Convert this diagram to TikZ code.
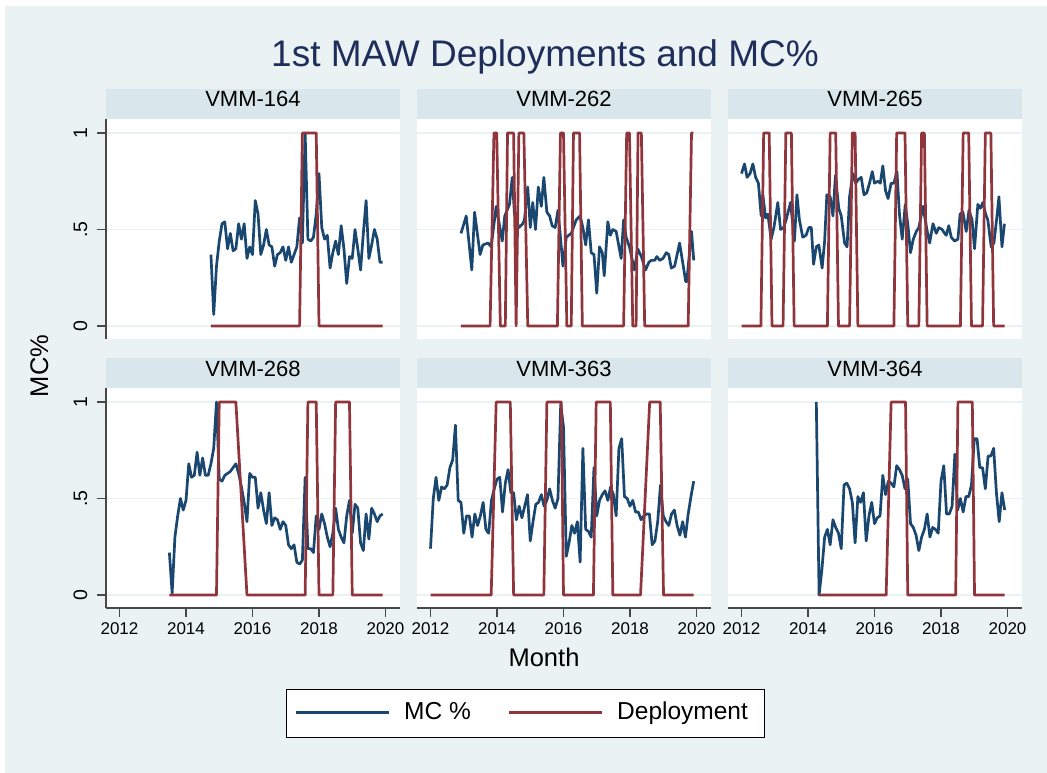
\documentclass[tikz,border=0pt]{standalone}
\usepackage{fontspec}
\setmainfont{Liberation Sans}

\definecolor{bgcol}{HTML}{EAF2F3}
\definecolor{stripcol}{HTML}{D9E6EB}
\definecolor{gridcol}{HTML}{EAF2F3}
\definecolor{titlecol}{HTML}{1E2D5A}
\definecolor{mcblue}{HTML}{1A476F}
\definecolor{depred}{HTML}{90353B}
\definecolor{axiscol}{HTML}{474747}

% facet frame: #1 left x, #2 strip top y, #3 strip label, #4 node name
\newcommand\facetframe[4]{%
  \fill[stripcol] (#1,#2) rectangle ++(294,30);
  \node[striplabel] (#4) at (#1+147,#2+18) {#3};
  \fill[white] (#1,#2+30) rectangle ++(294,220);
  \foreach \gy in {44,140.5,237} \draw[gridline] (#1,#2+\gy) -- ++(294,0);
}

\begin{document}
\begin{tikzpicture}[x=1pt,y=-1pt,
  striplabel/.style={font=\fontsize{22}{26}\selectfont, anchor=base, inner sep=0pt},
  ticklabel/.style={font=\fontsize{17}{20}\selectfont, anchor=base, inner sep=0pt},
  yticklabel/.style={font=\fontsize{19.5}{23}\selectfont, anchor=base, inner sep=0pt, rotate=90},
  axislabel/.style={font=\fontsize{25.5}{30}\selectfont, anchor=base, inner sep=0pt},
  legendtext/.style={font=\fontsize{24.5}{29}\selectfont, anchor=base west, inner sep=0pt},
  titletext/.style={font=\fontsize{37}{44}\selectfont, text=titlecol, anchor=base, inner sep=0pt},
  gridline/.style={draw=gridcol, line width=1.6pt},
  axisline/.style={draw=axiscol, line width=1.3pt},
  mcline/.style={draw=mcblue, line width=2.7pt, line join=round},
  depline/.style={draw=depred, line width=2.7pt, line join=round},
  series/.style={x=2.7708pt, y=193pt},
]
\useasboundingbox (0,0) rectangle (1047,773);
\fill[bgcol] (5,6) rectangle (1047,773);

\node[titletext] (title) at (545,67) {1st MAW Deployments and MC\%};

% facet frames
\facetframe{106}{89}{VMM-164}{s164}
\facetframe{417}{89}{VMM-262}{s262}
\facetframe{728}{89}{VMM-265}{s265}
\facetframe{106}{358}{VMM-268}{s268}
\facetframe{417}{358}{VMM-363}{s363}
\facetframe{728}{358}{VMM-364}{s364}

% y axes (left column)
\draw[axisline] (106,119) -- (106,339);
\draw[axisline] (106,388) -- (106,608);
\foreach \ty/\tl in {326/0, 229.5/.5, 133/1, 595/0, 498.5/.5, 402/1} {
  \draw[axisline] (97,\ty) -- (106,\ty);
  \node[yticklabel] at (87,\ty) {\tl};
}

% x axes (bottom row)
\foreach \lx in {106,417,728} \draw[axisline] (\lx,608) -- ++(294,0);
\foreach \px in {119.5,430.5,741.5} {
  \foreach \k/\yr in {0/2012,1/2014,2/2016,3/2018,4/2020} {
    \draw[axisline] (\px+66.5*\k,608) -- ++(0,9);
    \node[ticklabel] at (\px+66.5*\k,634) {\yr};
  }
}

\node[axislabel] (xtitle) at (544,666) {Month};
\node[axislabel, rotate=90] (ytitle) at (48,366) {MC\%};

% ---- VMM-164 ----
\begin{scope}[xshift=119.5pt, yshift=-326pt, series]
  \draw[mcline] (33,.37) \foreach \v [count=\i from 34] in
    {.06,.31,.44,.53,.54,.40,.48,.39,.40,.53,.45,.53,.35,.41,.37,.65,.58,.37,.42,.50,
     .42,.41,.31,.37,.38,.41,.34,.41,.33,.37,.41,.56,.43,1.0,.45,.44,.46,.58,.79,.51,
     .45,.47,.30,.38,.44,.37,.52,.40,.22,.36,.35,.50,.40,.29,.48,.65,.35,.42,.50,.45,
     .33,.33} { -- (\i,\v) };
  \draw[depline] (33,0) -- (65,0) -- (66,1) -- (71,1) -- (72,0) -- (95,0);
\end{scope}

% ---- VMM-262 ----
\begin{scope}[xshift=430.5pt, yshift=-326pt, series]
  \draw[mcline] plot coordinates {(11,.48) (12.9,.57) (14.9,.29) (15.9,.59) (17.9,.37)
    (18.9,.42) (20.8,.43) (21.9,.41) (23.7,.62) (25.9,.44) (26.8,.57) (28.5,.63)
    (29.5,.77) (30.3,.58) (31.9,.51) (33.3,.53) (33.9,.55) (35.1,.72) (36,.51)
    (36.9,.64) (37.9,.50) (38.9,.72) (40,.62) (40.9,.77) (42,.59) (43,.57) (43.9,.52)
    (45,.51) (46,.60) (46.9,.46) (47.8,.31) (49,.46) (50.8,.48) (52.6,.55) (54,.57)
    (55,.51) (56,.42) (57,.55) (58,.38) (59,.37) (60,.17) (61,.41) (62,.38) (62.7,.26)
    (64,.54) (64.9,.47) (65.8,.50) (67,.49) (68.8,.35) (69.7,.55) (70.6,.46) (71.8,.41)
    (73.6,.29) (74.8,.40) (76.1,.36) (77.6,.29) (78.8,.33) (79.7,.34) (80.9,.34)
    (81.7,.36) (82.7,.34) (83.9,.35) (85.1,.38) (86,.37) (86.9,.30) (88.1,.31)
    (89.9,.43) (90.9,.34) (92.1,.23) (92.5,.23) (94.2,.49) (95,.34)};
  \draw[depline] plot coordinates {(11,0) (21.5,0) (22.9,1) (23.9,1) (25.2,0) (27,0)
    (27.8,1) (30,1) (30.9,0) (31.9,1) (33.7,1) (35.1,0) (45.8,0) (46.9,1) (48,1)
    (49.2,0) (50.8,0) (51.6,1) (53.8,1) (54.8,0) (69.7,0) (70.8,1) (71.8,1) (73,0)
    (74.2,0) (74.9,1) (76.1,1) (77.3,0) (93,0) (94.2,1) (94.9,1)};
\end{scope}

% ---- VMM-265 ----
\begin{scope}[xshift=741.5pt, yshift=-326pt, series]
  \draw[mcline] plot coordinates {(0,.79) (1.1,.84) (2,.77) (3.1,.79) (4.1,.84)
    (5.1,.77) (6.1,.74) (7.1,.57) (7.7,.68) (8.7,.56) (9.5,.58) (10.7,.45) (11.7,.51)
    (13.1,.64) (14.1,.50) (15.2,.51) (16.1,.55) (17.7,.64) (19.1,.44) (20,.68)
    (20.9,.55) (22.1,.46) (23.3,.47) (24.3,.51) (25.2,.51) (26,.32) (27,.41)
    (27.9,.42) (29.1,.30) (30,.44) (30.8,.68) (32,.67) (33,.57) (33.9,.78) (35.1,.61)
    (36,.57) (37.2,.43) (38.1,.41) (39,.67) (40.2,.79) (41.2,.74) (42.2,.76)
    (43.2,.77) (44.2,.68) (45.2,.69) (46.2,.74) (47.2,.80) (48,.74) (49.2,.75)
    (50.1,.74) (51,.83) (52,.70) (52.9,.66) (54,.74) (55,.74) (56.1,.80) (57,.58)
    (58,.45) (59.1,.63) (60,.53) (61,.38) (62,.45) (63.1,.49) (64,.51) (65.5,.62)
    (66.9,.50) (67.9,.43) (69.1,.53) (70.3,.48) (71.2,.51) (72.4,.50) (73.3,.48)
    (73.9,.47) (74.8,.52) (75.7,.46) (76.9,.44) (78.1,.45) (78.9,.58) (79.9,.59)
    (81.1,.49) (82.1,.60) (83.2,.55) (84.1,.40) (85.3,.63) (86.2,.61) (87.1,.64)
    (88.1,.58) (88.9,.55) (90.1,.41) (91.1,.43) (92.2,.57) (92.9,.67) (94,.41)
    (94.9,.53)};
  \draw[depline] plot coordinates {(0,0) (7,0) (8,1) (10,1) (11,0) (15,0) (16,1)
    (18,1) (19,0) (31,0) (32,1) (34,1) (35,0) (39,0) (40,1) (41,1) (42,0) (55,0)
    (56,1) (59,1) (60,0) (64,0) (65,1) (66,1) (67,0) (79,0) (80,1) (82,1) (83,0)
    (87,0) (88,1) (90,1) (91,0) (95,0)};
\end{scope}

% ---- VMM-268 ----
\begin{scope}[xshift=119.5pt, yshift=-595pt, series]
  \draw[mcline] (18,.22) \foreach \v [count=\i from 19] in
    {.01,.30,.41,.50,.44,.49,.68,.61,.62,.74,.62,.71,.62,.62,.68,.76,1.0,.60,.59,.62,
     .63,.64,.66,.68,.63,.56,.48,.38,.63,.61,.61,.45,.53,.44,.37,.53,.36,.40,.39,.34,
     .38,.36,.26,.24,.26,.17,.16,.18,.61,.24,.24,.22,.41,.34,.42,.37,.30,.25,.32,.45,
     .34,.30,.27,.41,.49,.32,.47,.45,.27,.23,.42,.29,.45,.42,.38,.41,.42} { -- (\i,\v) };
  \draw[depline] (18,0) -- (35,0) -- (36,1) -- (42,1) -- (46,0) -- (67,0) -- (68,1)
    -- (71,1) -- (72,0) -- (77,0) -- (78,1) -- (83,1) -- (84,0) -- (95,0);
\end{scope}

% ---- VMM-363 ----
\begin{scope}[xshift=430.5pt, yshift=-595pt, series]
  \draw[mcline] (0,.24) \foreach \v [count=\i from 1] in
    {.50,.61,.49,.56,.55,.57,.66,.70,.88,.49,.48,.32,.41,.41,.30,.42,.36,.41,.48,.34,
     .32,.49,.55,.60,.61,.43,.58,.65,.53,.53,.39,.46,.40,.46,.52,.28,.38,.47,.48,.52,
     .46,.49,.55,.49,.45,.50,.99,.87,.20,.27,.36,.32,.38,.17,.76,.34,.33,.30,.66,.41,
     .49,.52,.54,.49,.56,.52,.41,.76,.81,.51,.50,.46,.49,.43,.43,.39,.41,.42,.42,.26,
     .28,.38,.57,.41,.38,.36,.42,.44,.36,.31,.38,.30,.42,.51,.59} { -- (\i,\v) };
  \draw[depline] plot coordinates {(0,0) (21.9,0) (23.7,1) (28.8,1) (30,0) (40.9,0)
    (42,1) (47.2,1) (48,0) (58.8,0) (59.8,1) (64.9,1) (65.8,0) (75.8,0) (79.1,1)
    (82.9,1) (84.1,0) (95,0)};
\end{scope}

% ---- VMM-364 ----
\begin{scope}[xshift=741.5pt, yshift=-595pt, series]
  \draw[mcline] (27,1.0) \foreach \v [count=\i from 28] in
    {0,.13,.30,.34,.26,.39,.35,.32,.24,.57,.58,.55,.48,.27,.51,.48,.53,.28,.41,.48,
     .37,.40,.41,.62,.52,.59,.58,.56,.67,.65,.62,.55,.60,.37,.35,.31,.23,.30,.34,.42,
     .30,.35,.34,.32,.59,.67,.42,.42,.46,.73,.44,.50,.43,.51,.51,.57,.81,.81,.66,.66,
     .55,.72,.72,.76,.53,.38,.53,.44} { -- (\i,\v) };
  \draw[depline] plot coordinates {(28,0) (52.2,0) (54,1) (59.2,1) (60,0) (77.3,0)
    (78.1,1) (83.3,1) (84.1,0) (95,0)};
\end{scope}

% legend
\node[draw=black, fill=white, line width=1pt, minimum width=478pt, minimum height=48pt,
      inner sep=0pt] (legendbox) at (525,713) {};
\draw[mcline] (296,712.5) -- (389,712.5);
\node[legendtext] (legmc) at (404,719) {MC \%};
\draw[depline] (509,712.5) -- (602,712.5);
\node[legendtext] (legdep) at (617,719) {Deployment};
\end{tikzpicture}
\end{document}
